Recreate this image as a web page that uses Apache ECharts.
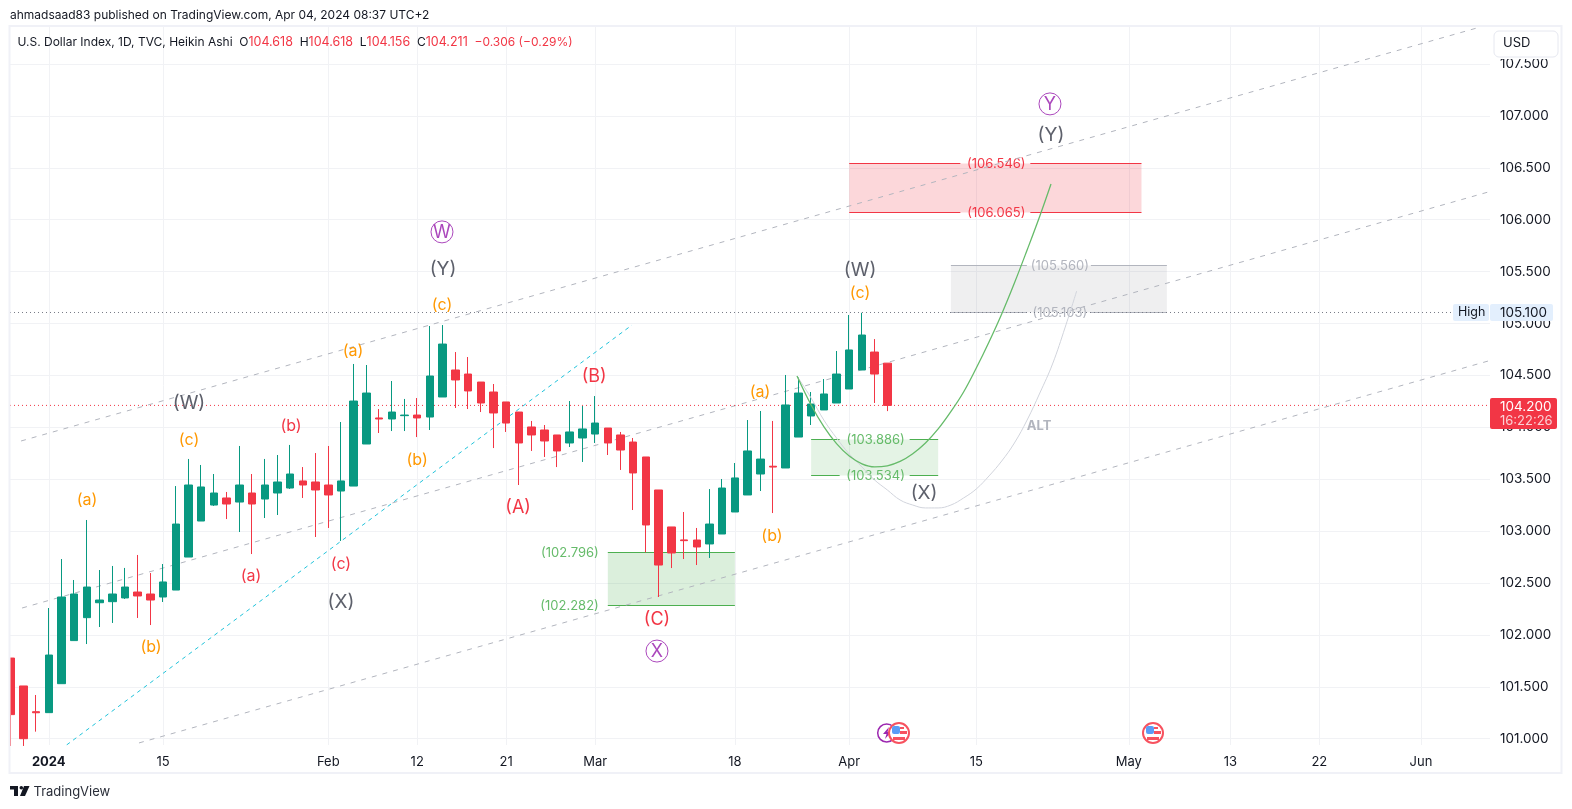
<!DOCTYPE html>
<html>
<head>
<meta charset="utf-8">
<title>U.S. Dollar Index</title>
<script src="https://cdn.jsdelivr.net/npm/echarts@6/dist/echarts.min.js"></script>
<style>
  html, body { margin: 0; padding: 0; background: #fff; }
  #chart { width: 1572px; height: 809px; }
</style>
</head>
<body>
<div id="chart"></div>
<script>
// heikin ashi candles, index 0 is the partly hidden bar at the left edge
const opens = [101.777, 101.508, 101.26, 101.251, 101.53, 101.945, 102.166, 102.31, 102.32, 102.356,
  102.413, 102.394, 102.365, 102.432, 102.75, 103.097, 103.251, 103.319, 103.28, 103.367,
  103.309, 103.367, 103.415, 103.483, 103.473, 103.444, 103.386, 103.434, 103.839, 104.09,
  104.08, 104.112, 104.118, 104.099, 104.292, 104.552, 104.513, 104.436, 104.34, 104.244,
  104.147, 104.003, 103.974, 103.926, 103.849, 103.897, 103.935, 103.993, 103.926, 103.858,
  103.714, 103.396, 103.04, 102.915, 102.914, 102.876, 102.972, 103.184, 103.348, 103.55,
  103.625, 103.608, 103.906, 104.109, 104.167, 104.234, 104.369, 104.552, 104.725, 104.618];
const closes = [101.232, 101.0, 101.25, 101.806, 102.365, 102.394, 102.461, 102.336, 102.394, 102.461,
  102.375, 102.336, 102.51, 103.068, 103.444, 103.425, 103.367, 103.261, 103.444, 103.261,
  103.444, 103.473, 103.55, 103.444, 103.396, 103.348, 103.483, 104.253, 104.33, 104.08,
  104.147, 104.118, 104.09, 104.494, 104.802, 104.456, 104.35, 104.234, 104.138, 104.041,
  103.849, 103.926, 103.868, 103.772, 103.955, 103.984, 104.041, 103.849, 103.781, 103.56,
  103.059, 102.673, 102.789, 102.908, 102.847, 103.068, 103.415, 103.512, 103.772, 103.694,
  103.617, 104.215, 104.33, 104.224, 104.321, 104.513, 104.745, 104.889, 104.513, 104.211];
const lows = [100.93, 100.93, 101.068, 101.251, 101.53, 101.945, 101.912, 102.076, 102.115, 102.346,
  102.163, 102.095, 102.317, 102.432, 102.75, 103.097, 103.242, 103.116, 102.991, 102.779,
  103.126, 103.155, 103.406, 103.319, 102.943, 103.03, 102.905, 103.434, 103.839, 103.945,
  103.964, 103.964, 103.906, 103.974, 104.292, 104.186, 104.176, 104.147, 103.8, 103.955,
  103.444, 103.772, 103.714, 103.617, 103.81, 103.666, 103.849, 103.733, 103.589, 103.203,
  102.795, 102.365, 102.644, 102.731, 102.673, 102.741, 102.972, 103.184, 103.348, 103.386,
  103.174, 103.608, 103.906, 104.022, 104.167, 104.234, 104.369, 104.552, 104.234, 104.156];
const highs = [101.777, 101.508, 101.421, 102.259, 102.731, 102.529, 103.107, 102.625, 102.664, 102.645,
  102.77, 102.596, 102.683, 103.434, 103.695, 103.637, 103.55, 103.377, 103.82, 103.55,
  103.695, 103.733, 103.83, 103.617, 103.752, 103.82, 104.051, 104.61, 104.6, 104.176,
  104.446, 104.273, 104.282, 104.976, 104.985, 104.725, 104.677, 104.436, 104.417, 104.244,
  104.147, 104.061, 104.022, 103.926, 104.253, 104.205, 104.301, 103.993, 103.955, 103.897,
  103.714, 103.396, 103.04, 103.184, 103.03, 103.405, 103.502, 103.656, 104.07, 104.157,
  104.061, 104.504, 104.48, 104.34, 104.465, 104.735, 105.082, 105.103, 104.85, 104.618];

const xTicks = [3, 12, 25, 32, 39, 46, 57, 66, 76, 88, 96, 103, 111];
const xTickLabels = ['2024', '15', 'Feb', '12', '21', 'Mar', '18', 'Apr', '15', 'May', '13', '22', 'Jun'];
const yTicks = [101, 101.5, 102, 102.5, 103, 103.5, 104, 104.5, 105, 105.5, 106, 106.5, 107, 107.5];

const highPrice = 105.106;
const lastPrice = 104.211;

// trend lines as [bar index, price]
const channelTop = [[0.82, 103.868], [115.4, 107.847]];
const channelMid = [[0.9, 102.259], [116.3, 106.267]];
const channelLow = [[10.1, 100.959], [116.3, 104.639]];
const cyanLine = [[4.41, 100.94], [48.9, 104.985]];

const greenPath = [[61.89, 104.494], [63, 104.215], [64, 104.006], [65, 103.842], [66, 103.723], [67, 103.648],
  [68, 103.618], [69, 103.629], [70, 103.671], [71, 103.745], [72, 103.849], [73, 103.984], [74, 104.151],
  [75, 104.34], [76, 104.571], [77, 104.822], [78, 105.092], [79, 105.39], [80, 105.708], [81, 106.036], [81.88, 106.344]];
const greyPath = [[61.89, 104.494], [63, 104.282], [64, 104.07], [65, 103.897], [66, 103.743], [67, 103.618],
  [68, 103.492], [69, 103.396], [70, 103.3], [71, 103.251], [72, 103.223], [73, 103.223], [74, 103.251],
  [75, 103.319], [76, 103.406], [77, 103.531], [78, 103.675], [79, 103.849], [80, 104.07], [81, 104.33],
  [82, 104.61], [83, 104.966], [83.9, 105.313]];

// price zones
const zoneStart = [66, 74, 63, 47];
const zoneEnd = [89, 91, 73, 57];
const zoneTop = [106.546, 105.56, 103.886, 102.796];
const zoneBottom = [106.065, 105.103, 103.534, 102.282];
const zoneKind = ['red', 'grey', 'green', 'greenLeft'];

// elliott wave labels
const waveText = ['(a)', '(b)', '(c)', '(a)', '(b)', '(c)', '(a)', '(b)', '(c)',
  '(a)', '(b)', '(c)', '(A)', '(B)', '(C)',
  '(W)', '(X)', '(Y)', '(W)', '(Y)', '(X)',
  'W', 'X', 'Y', 'ALT'];
const waveBar = [5.93, 10.97, 13.96, 26.87, 31.91, 33.87, 58.9, 59.84, 66.77,
  18.84, 21.99, 25.92, 39.86, 45.84, 50.79,
  13.96, 25.92, 33.95, 66.77, 81.8, 71.81,
  33.87, 50.79, 81.72, 80.86];
const wavePrice = [103.319, 101.904, 103.897, 104.754, 103.704, 105.197, 104.359, 102.972, 105.313,
  102.587, 104.032, 102.702, 103.242, 104.504, 102.163,
  104.253, 102.336, 105.544, 105.535, 106.836, 103.386,
  105.892, 101.854, 107.125, 104.032];
const waveKind = ['o', 'o', 'o', 'o', 'o', 'o', 'o', 'o', 'o',
  'r', 'r', 'r', 'R', 'R', 'R',
  'g', 'g', 'g', 'g', 'g', 'g',
  'p', 'p', 'p', 'alt'];

const UP = '#089981', DOWN = '#F23645', GRID = '#F1F2F5', INK = '#131722';
const FONT = 'Inter, "Noto Sans", sans-serif';

const zoneStyles = {
  red: { fill: 'rgba(242,54,69,0.2)', line: '#F23645', text: '#F23645', gap: 35 },
  grey: { fill: 'rgba(120,123,134,0.12)', line: '#B2B5BE', text: '#B2B5BE', gap: 32 },
  green: { fill: 'rgba(76,175,80,0.15)', line: '#4CAF50', text: '#66BB6A', gap: 35 },
  greenLeft: { fill: 'rgba(76,175,80,0.2)', line: '#4CAF50', text: '#66BB6A', gap: 0 }
};
const waveStyles = {
  o: { fill: '#FF9800', size: 16 },
  r: { fill: '#F23645', size: 16 },
  R: { fill: '#F23645', size: 18 },
  g: { fill: '#5D606B', size: 19 },
  p: { fill: '#AB47BC', size: 18 },
  alt: { fill: '#B2B5BE', size: 13, weight: 700 }
};

function renderZone(params, api) {
  const i = params.dataIndex;
  const s = zoneStyles[zoneKind[i]];
  const a = api.coord([zoneStart[i], zoneTop[i]]);
  const b = api.coord([zoneEnd[i], zoneBottom[i]]);
  const yTop = Math.floor(a[1]) + 0.5, yBottom = Math.floor(b[1]) + 0.5;
  const children = [{ type: 'rect', shape: { x: a[0], y: yTop, width: b[0] - a[0], height: yBottom - yTop }, style: { fill: s.fill } }];
  const mid = (a[0] + b[0]) / 2;
  [[yTop, zoneTop[i]], [yBottom, zoneBottom[i]]].forEach(([y, price]) => {
    const text = '(' + price.toFixed(3) + ')';
    if (s.gap) {
      children.push({ type: 'line', shape: { x1: a[0], y1: y, x2: mid - s.gap, y2: y }, style: { stroke: s.line, lineWidth: 1 } });
      children.push({ type: 'line', shape: { x1: mid + s.gap, y1: y, x2: b[0], y2: y }, style: { stroke: s.line, lineWidth: 1 } });
      children.push({ type: 'text', x: mid + 1, y: y + 0.5, style: { text: text, fill: s.text, font: '13px ' + FONT, align: 'center', verticalAlign: 'middle' } });
    } else {
      children.push({ type: 'line', shape: { x1: a[0], y1: y, x2: b[0], y2: y }, style: { stroke: s.line, lineWidth: 1 } });
      children.push({ type: 'text', x: a[0] - 9, y: y + 0.5, style: { text: text, fill: s.text, font: '13px ' + FONT, align: 'right', verticalAlign: 'middle' } });
    }
  });
  return { type: 'group', children: children };
}

function renderWave(params, api) {
  const i = params.dataIndex;
  const s = waveStyles[waveKind[i]];
  const p = api.coord([waveBar[i], wavePrice[i]]);
  const x = p[0] + 1, y = p[1] + 2;
  const children = [];
  if (waveKind[i] === 'p') {
    children.push({ type: 'circle', shape: { cx: x, cy: y - 1, r: 11 }, style: { fill: 'none', stroke: s.fill, lineWidth: 1 } });
  }
  children.push({
    type: 'text', x: x, y: y,
    style: { text: waveText[i], fill: s.fill, font: (s.weight || 400) + ' ' + s.size + 'px ' + FONT, align: 'center', verticalAlign: 'middle' }
  });
  return { type: 'group', children: children };
}

function flag(cx, cy) {
  return [
    { type: 'circle', shape: { cx: cx, cy: cy, r: 10 }, style: { fill: '#fff', stroke: '#F7525F', lineWidth: 2 }, z: 20 },
    { type: 'rect', shape: { x: cx - 7, y: cy - 7, width: 8, height: 8, r: 2 }, style: { fill: '#5B9CF6' }, z: 21 },
    { type: 'rect', shape: { x: cx + 1, y: cy - 6, width: 4, height: 2 }, style: { fill: '#F7525F' }, z: 21 },
    { type: 'rect', shape: { x: cx + 1, y: cy - 2, width: 7, height: 3 }, style: { fill: '#F7525F' }, z: 21 },
    { type: 'rect', shape: { x: cx - 6, y: cy + 4, width: 12, height: 3 }, style: { fill: '#F7525F' }, z: 21 }
  ];
}

const plainLine = (data, color, dash, width) => ({
  type: 'line', data: data, symbol: 'none', silent: true, z: 3,
  lineStyle: { color: color, width: width || 1, type: dash || 'solid' }
});

const chart = echarts.init(document.getElementById('chart'));
chart.setOption({
  animation: false,
  textStyle: { fontFamily: FONT },
  grid: { left: 10, right: 82, top: 26, bottom: 64 },
  xAxis: {
    type: 'value', min: -0.05, max: 116.43,
    axisLine: { show: false },
    axisTick: { show: false, customValues: xTicks },
    splitLine: { show: true, lineStyle: { color: GRID, width: 1 } },
    axisLabel: {
      customValues: xTicks, color: INK, fontSize: 13, margin: 11, hideOverlap: false,
      showMinLabel: true, showMaxLabel: true,
      formatter: v => {
        const t = xTickLabels[xTicks.indexOf(v)];
        return t === '2024' ? '{b|2024}' : t;
      },
      rich: { b: { fontWeight: 700, fontSize: 13, color: INK, fontFamily: FONT } }
    }
  },
  yAxis: {
    type: 'value', position: 'right', min: 100.9393, max: 107.866, scale: true,
    axisLine: { show: false },
    axisTick: { show: false, customValues: yTicks },
    splitLine: { show: true, lineStyle: { color: GRID, width: 1 } },
    axisLabel: { customValues: yTicks, color: INK, fontSize: 13.5, margin: 10, padding: [0, 0, 2, 0], formatter: v => v.toFixed(3) }
  },
  series: [
    { type: 'custom', renderItem: renderZone, data: zoneStart.map((s, i) => [s, zoneTop[i]]), silent: true, z: 1, clip: true },
    plainLine(channelTop, '#B2B5BE', [5, 6]),
    plainLine(channelMid, '#B2B5BE', [5, 6]),
    plainLine(channelLow, '#B2B5BE', [5, 6]),
    plainLine(cyanLine, '#22C3DA', [4, 4]),
    plainLine([[-0.05, highPrice], [113.5, highPrice]], '#787B86', [1, 3]),
    plainLine([[-0.05, lastPrice], [116.43, lastPrice]], '#F23645', [1, 3]),
    {
      type: 'candlestick', barWidth: 8, z: 4,
      data: opens.map((o, i) => [i, o, closes[i], lows[i], highs[i]]),
      itemStyle: { color: UP, color0: DOWN, borderColor: UP, borderColor0: DOWN, borderWidth: 1 }
    },
    Object.assign(plainLine(greyPath, '#D1D4DC'), { smooth: 0.4, z: 5 }),
    Object.assign(plainLine(greenPath, '#66BB6A', 'solid', 1.3), { smooth: 0.4, z: 5 }),
    { type: 'custom', renderItem: renderWave, data: waveBar.map((b, i) => [b, wavePrice[i]]), silent: true, z: 6, clip: false }
  ],
  graphic: [
    // hides the part of the first candle left of the pane
    { type: 'rect', shape: { x: 0, y: 26, width: 9, height: 747 }, style: { fill: '#fff' }, z: 9, silent: true },
    { type: 'rect', shape: { x: 9.5, y: 26, width: 1552, height: 747 }, style: { fill: 'none', stroke: '#F0F1F7', lineWidth: 2 }, z: 10, silent: true },
    { type: 'text', x: 10, y: 9, style: { text: 'ahmadsaad83 published on TradingView.com, Apr 04, 2024 08:37 UTC+2', fill: INK, font: '12px ' + FONT }, z: 10 },
    {
      type: 'text', x: 17.5, y: 36, z: 10,
      style: {
        text: 'U.S. Dollar Index, 1D, TVC, Heikin Ashi  O{v|104.618}  H{v|104.618}  L{v|104.156}  C{v|104.211}  {r|\u22120.306 (\u22120.29%)}',
        fill: INK, font: '12px ' + FONT,
        rich: { v: { fill: DOWN, font: '12.5px ' + FONT }, r: { fill: DOWN, font: '12px ' + FONT } }
      }
    },
    // usd button
    { type: 'rect', shape: { x: 1492, y: 28, width: 68, height: 31 }, style: { fill: '#fff' }, z: 11 },
    { type: 'rect', shape: { x: 1494, y: 31, width: 64, height: 26, r: 5 }, style: { fill: '#fff', stroke: '#E6E8F0', lineWidth: 1 }, z: 12 },
    { type: 'text', x: 1503, y: 37, style: { text: 'USD', fill: INK, font: '13px ' + FONT }, z: 13 },
    // high tag
    { type: 'rect', shape: { x: 1453, y: 304, width: 36, height: 17, r: 2 }, style: { fill: '#E3EFFD' }, z: 12 },
    { type: 'rect', shape: { x: 1490, y: 304, width: 63, height: 17, r: 2 }, style: { fill: '#E3EFFD' }, z: 12 },
    { type: 'text', x: 1458, y: 306, style: { text: 'High', fill: INK, font: '12.5px ' + FONT }, z: 13 },
    { type: 'text', x: 1500, y: 306, style: { text: '105.100', fill: INK, font: '13.5px ' + FONT }, z: 13 },
    // last price tag
    { type: 'rect', shape: { x: 1490, y: 398, width: 67, height: 31, r: 2 }, style: { fill: DOWN }, z: 12 },
    { type: 'text', x: 1500, y: 400, style: { text: '104.200', fill: '#fff', font: '13.5px ' + FONT }, z: 13 },
    { type: 'text', x: 1500, y: 415, style: { text: '16:22:26', fill: '#FBD0D4', font: '13px ' + FONT }, z: 13 },
    // event markers
    { type: 'circle', shape: { cx: 886.7, cy: 733, r: 9 }, style: { fill: '#fff', stroke: '#9C27B0', lineWidth: 1.5 }, z: 18 },
    { type: 'polygon', shape: { points: [[889, 727], [883, 734], [886.5, 734], [885, 739], [891, 732], [887.5, 732]] }, style: { fill: '#9C27B0' }, z: 19 },
    ...flag(899, 733), ...flag(1153, 733),
    // footer logo
    { type: 'polygon', shape: { points: [[10, 786], [18, 786], [18, 796], [14, 796], [14, 789.5], [10, 789.5]] }, style: { fill: INK }, z: 10 },
    { type: 'circle', shape: { cx: 21.3, cy: 787.8, r: 1.8 }, style: { fill: INK }, z: 10 },
    { type: 'polygon', shape: { points: [[24, 786], [29.5, 786], [25, 796], [20, 796]] }, style: { fill: INK }, z: 10 },
    { type: 'text', x: 33.5, y: 786, style: { text: 'TradingView', fill: '#2A2E39', font: '13px ' + FONT }, z: 10 }
  ]
});
</script>
</body>
</html>
